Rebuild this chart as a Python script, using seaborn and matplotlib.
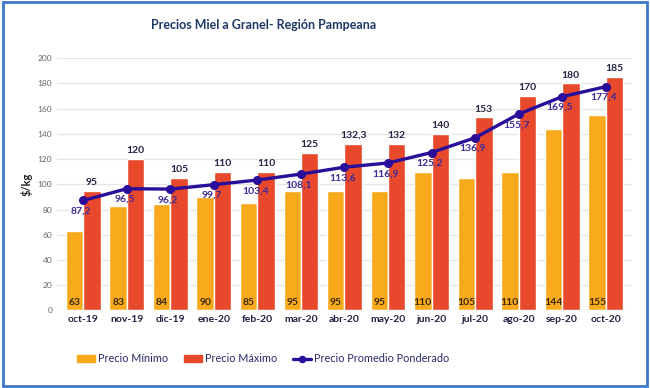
import pandas as pd
import matplotlib.pyplot as plt
import seaborn as sns
from matplotlib.patches import Rectangle

# datos
meses = ["oct-19", "nov-19", "dic-19", "ene-20", "feb-20", "mar-20", "abr-20",
         "may-20", "jun-20", "jul-20", "ago-20", "sep-20", "oct-20"]
precio_min = [63, 83, 84, 90, 85, 95, 95, 95, 110, 105, 110, 144, 155]
precio_max = [95, 120, 105, 110, 110, 125, 132.3, 132, 140, 153, 170, 180, 185]
precio_prom = [87.2, 96.5, 96.2, 99.7, 103.4, 108.1, 113.6, 116.9, 125.2, 136.9, 155.7, 169.5, 177.4]

df = pd.DataFrame({"mes": meses * 2,
                   "precio": precio_min + precio_max,
                   "serie": ["Precio Mínimo"] * 13 + ["Precio Máximo"] * 13})

sns.set_style("white")
plt.rcParams["font.family"] = ["Lato", "DejaVu Sans"]

fig = plt.figure(figsize=(6.5, 3.88), dpi=100)
ax = fig.add_axes([0.088, 0.2, 0.884, 0.65])

ax = sns.barplot(data=df, x="mes", y="precio", hue="serie", saturation=1,
                 palette=["#F8AA1C", "#E8482C"], width=0.8, ax=ax, legend=False)
linea, = ax.plot(range(len(meses)), precio_prom, color="#2A0E9A", lw=2.4, marker="o",
                 ms=5.5, label="Precio Promedio Ponderado")

def fmt(v):
    return str(v).replace(".", ",") if v != int(v) else str(int(v))

for i in range(len(meses)):
    ax.text(i - 0.2, 3, fmt(precio_min[i]), ha="center", va="bottom",
            fontsize=7.5, fontweight="bold", color="#3a2a10")
    ax.text(i + 0.2, precio_max[i] + 3, fmt(precio_max[i]), ha="center", va="bottom",
            fontsize=7.5, fontweight="bold", color="#222244")
    ax.text(i - 0.05, precio_prom[i] - 5, fmt(precio_prom[i]), ha="center", va="top",
            fontsize=7.5, fontweight="bold", color="#3d2a9a")

ax.set_ylim(0, 200)
ax.set_yticks(range(0, 201, 20))
ax.tick_params(axis="y", labelsize=6, colors="#666666", length=0)
ax.tick_params(axis="x", labelsize=7.5, length=0)
for t in ax.get_xticklabels():
    t.set_fontweight("bold")
    t.set_color("#222244")
ax.grid(axis="y", color="#e6e6e6", lw=1)
ax.set_axisbelow(True)
sns.despine(ax=ax, left=True, bottom=True)
ax.set_xlabel("")
ax.set_ylabel("$/kg", fontsize=8, fontweight="bold", color="#222222")
ax.set_xlim(-0.6, len(meses) - 0.4)

handles = [Rectangle((0, 0), 1, 1, color="#F8AA1C"), Rectangle((0, 0), 1, 1, color="#E8482C"),
           linea]
fig.legend(handles, ["Precio Mínimo", "Precio Máximo", "Precio Promedio Ponderado"],
           loc="center", bbox_to_anchor=(0.405, 0.075), ncol=3, frameon=False,
           fontsize=7.8, handlelength=1.6, handletextpad=0.3, columnspacing=1.5,
           labelcolor="#2a2a6a", markerscale=0.8)

fig.suptitle("Precios Miel a Granel- Región Pampeana", x=0.405, y=0.95, fontsize=9,
             fontweight="bold", color="#1F3864")

fig.patches.append(Rectangle((0.004, 0.006), 0.992, 0.988, transform=fig.transFigure,
                             fill=False, edgecolor="#3E78C8", lw=2))

fig.savefig("out.png", dpi=100)
